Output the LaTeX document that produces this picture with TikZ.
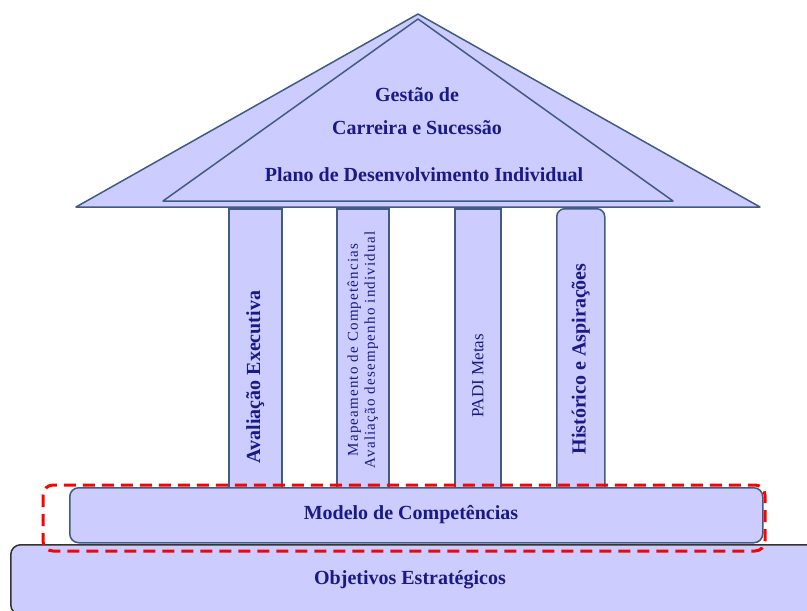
\documentclass[tikz,border=0pt]{standalone}
\usepackage{fontspec}
\setmainfont{Liberation Serif}
\newfontfamily\spacedfont[LetterSpace=8]{Liberation Serif}
\usetikzlibrary{positioning}

\definecolor{lilac}{RGB}{204,204,255}
\definecolor{edge}{RGB}{65,92,128}
\definecolor{ink}{RGB}{25,25,135}

\tikzset{
  part/.style={draw=edge, fill=lilac, line width=1.5pt},
  pillar/.style={part, minimum width=#1, minimum height=289pt, inner sep=0pt, anchor=north west},
  banner/.style={font=\fontsize{20}{33}\selectfont\bfseries, text=ink, align=center, inner sep=0pt},
  upright/.style={rotate=90, text=ink, align=center, inner sep=0pt},
}

\begin{document}
\begin{tikzpicture}[x=1pt, y=-1pt]
    \useasboundingbox (0,0) rectangle (807,611);

    % base layer
    \node[part, draw=black!80, rounded corners=10pt, minimum width=810pt, minimum height=70pt, anchor=north west] (base) at (10,544) {};
    \node[banner] (baseText) at (410,580) {Objetivos Estratégicos};

    % pillars
    \node[pillar=53pt] (colA) at (228,208) {};
    \node[pillar=52pt] (colB) at (336,208) {};
    \node[pillar=46pt] (colC) at (454,208) {};
    \node[pillar=48pt, rounded corners=8pt] (colD) at (556,208) {};

    \node[upright, font=\fontsize{20}{22}\selectfont\bfseries] (colAText) at (colA |- 0,377) {Avaliação Executiva};
    \node[upright, font=\fontsize{15}{17}\selectfont\spacedfont] (colBText) at (colB |- 0,350) {Mapeamento de Competências\\Avaliação desempenho individual};
    \node[upright, font=\fontsize{17}{18}\selectfont] (colCText) at (colC |- 0,376) {PADI Metas};
    \node[upright, font=\fontsize{20}{22}\selectfont\bfseries] (colDText) at (colD |- 0,359) {Histórico e Aspirações};

    % roof
    \coordinate (apex) at (418,14);
    \coordinate (roofL) at (76,207);
    \coordinate (roofR) at (760,207);
    \coordinate (innerApex) at (418,19);
    \coordinate (innerL) at (163,201);
    \coordinate (innerR) at (673,201);
    \draw[part, line join=round] (roofL) -- (apex) -- (roofR) -- cycle;
    \draw[part, line join=round] (innerL) -- (innerApex) -- (innerR) -- cycle;

    \node[banner] (roofTitle) at (417,111) {Gestão de\\Carreira e Sucessão};
    \node[banner] (roofPlan) at (424,175) {Plano de Desenvolvimento Individual};

    % competence model
    \node[part, rounded corners=9pt, minimum width=693pt, minimum height=55pt, anchor=north west] (model) at (69,487) {};
    \node[banner] (modelText) at (411,515) {Modelo de Competências};

    % highlight
    \draw[red, line width=3pt, dash pattern=on 12pt off 7pt, rounded corners=10pt] (43,485) rectangle (765,551);
\end{tikzpicture}
\end{document}
